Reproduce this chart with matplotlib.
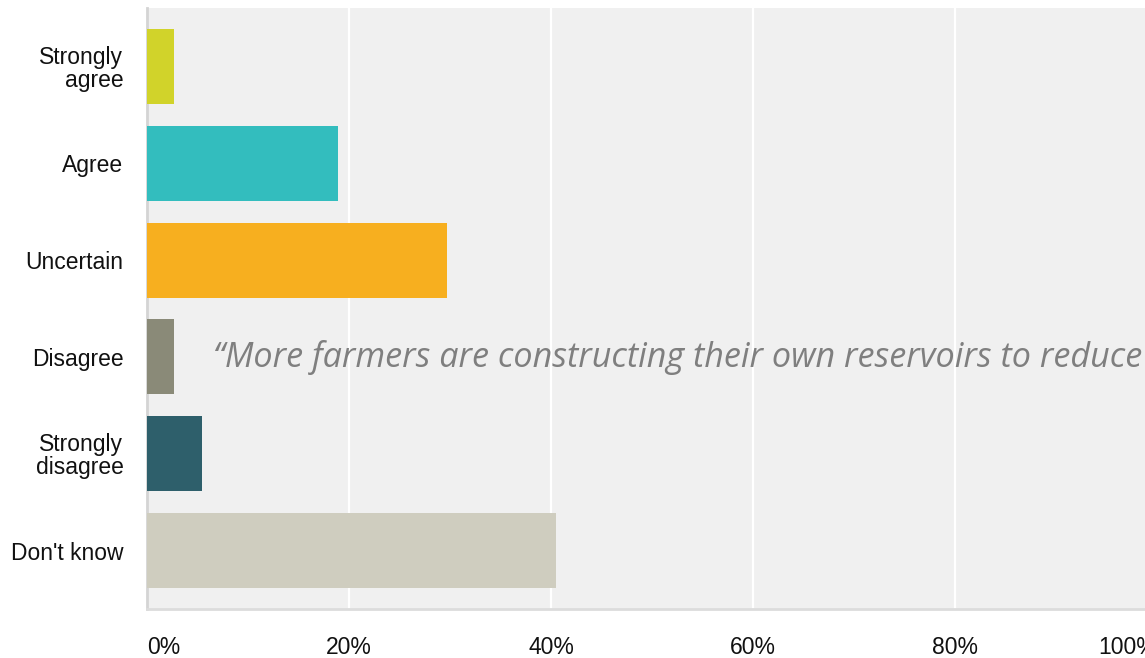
import matplotlib.pyplot as plt

# survey answers (share of respondents, %)
answers = ['Strongly\nagree', 'Agree', 'Uncertain', 'Disagree', 'Strongly\ndisagree', "Don't know"]
shares = [2.7, 18.9, 29.7, 2.7, 5.4, 40.5]
colors = ['#d1d32a', '#33bdbe', '#f7af1f', '#8a8a78', '#2e5f6b', '#cfcdbf']
ticks = [0, 20, 40, 60, 80, 100]
tick_labels = ['0%', '20%', '40%', '60%', '80%', '100%']
quote = '\u201cMore farmers are constructing their own reservoirs to reduce'

fig = plt.figure(figsize=(11.45, 6.58), dpi=100)
ax = fig.add_axes([147 / 1145, 1 - 609 / 658, 1010 / 1145, 601 / 658])
ax.set_facecolor('#f0f0f0')

ax.barh(range(len(answers)), shares, height=0.775, color=colors, zorder=3)

ax.set_xlim(0, 100)
ax.set_ylim(5.604, -0.604)
ax.set_xticks(ticks)
ax.set_xticklabels(tick_labels)
ax.set_yticks(range(len(answers)))
ax.set_yticklabels(answers, linespacing=1.0)
ax.xaxis.grid(True, color='white', linewidth=1.6, zorder=1)
ax.tick_params(length=0, labelsize=16.5, labelcolor='#111111')
ax.tick_params(axis='y', pad=17)
ax.tick_params(axis='x', pad=19.5)
for lab in ax.get_yticklabels() + ax.get_xticklabels():
    lab.set_family('Liberation Sans')
ax.get_xticklabels()[0].set_ha('left')
ax.get_xticklabels()[-1].set_ha('right')

for side in ['top', 'right']:
    ax.spines[side].set_visible(False)
ax.spines['left'].set_color('#d4d4d4')
ax.spines['left'].set_linewidth(2)
ax.spines['bottom'].set_color('#dcdcdc')
ax.spines['bottom'].set_linewidth(2)

t = fig.text(213 / 1145, 1 - 367 / 658, quote, fontsize=25, style='italic',
             family='Open Sans', color='#7f7f7f', va='baseline', ha='left')
# fit the quote so it ends near the right edge
fig.canvas.draw()
w = t.get_window_extent().width
t.set_fontsize(25 * 930 / w)

fig.savefig('out.png', dpi=100)
